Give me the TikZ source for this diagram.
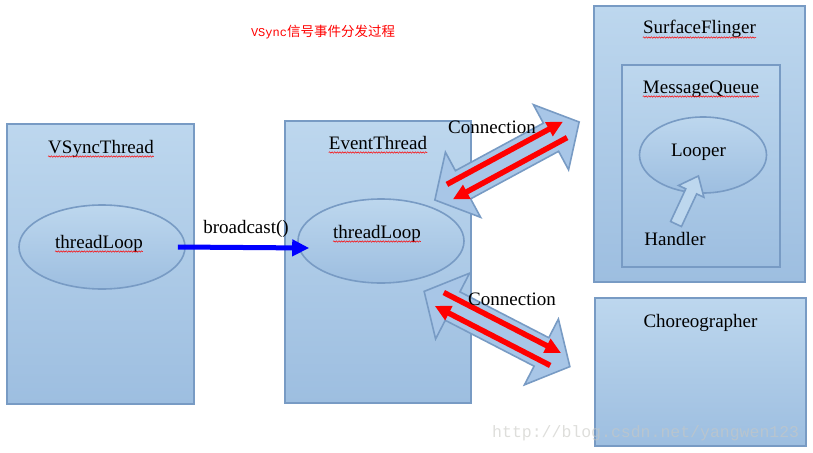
\documentclass[tikz,border=0pt]{standalone}
\usepackage{fontspec}
\setmainfont{Liberation Serif}
\setmonofont{Liberation Mono}
\newfontfamily\cjk{Noto Sans CJK SC}
\usepackage{tikz}
\usetikzlibrary{arrows.meta,shapes.geometric,decorations.pathmorphing}
\definecolor{boxtop}{RGB}{189,215,238}
\definecolor{boxbot}{RGB}{157,190,224}
\definecolor{boxline}{RGB}{120,155,196}
\definecolor{arrfill}{RGB}{168,198,231}
\definecolor{wmark}{RGB}{200,200,195}

\begin{document}
\begin{tikzpicture}[x=1pt,y=-1pt,
    box/.style={draw=boxline,line width=1.6pt,top color=boxtop,bottom color=boxbot},
    loopell/.style={ellipse,box,minimum width=166pt,minimum height=84pt},
    lbl/.style={inner sep=0pt,anchor=base,font=\fontsize{19}{22}\selectfont},
    spell/.style={red,line width=0.5pt,decorate,decoration={snake,amplitude=0.7pt,segment length=2.6pt}},
    bcast/.style={blue,line width=5pt,-{Triangle[length=17pt,width=16pt]}},
    redarrow/.style={red,line width=5.5pt,-{Triangle[length=16pt,width=15pt]}},
    blockarrow/.style={draw=boxline,line width=1.6pt,fill=arrfill,line join=miter}]
  \useasboundingbox (0,0) rectangle (813,452);
  % boxes
  \draw[box] (7,124) rectangle (194,404);
  \draw[box] (285,121) rectangle (471,403);
  \draw[box] (594,6) rectangle (805,282);
  \draw[box] (622,65) rectangle (780,267);
  \draw[box] (595,298) rectangle (806,446);
  % loops
  \node[loopell] (vloop) at (102,247) {};
  \node[loopell] (eloop) at (381,241) {};
  \node[loopell,minimum width=127pt,minimum height=76pt] (looper) at (703,155) {};
  \begin{scope}[shift={(676,224)},rotate=65]
    \draw[blockarrow,fill=boxtop] (0,-6) -- (36,-6) -- (36,-14) -- (53,0) -- (36,14) -- (36,6) -- (0,6) -- cycle;
  \end{scope}
  % connections
  \foreach \cx/\cy/\ang in {507/161/28.4, 497/329/-27.3}{
    \begin{scope}[shift={(\cx,\cy)},rotate=\ang]
      \draw[blockarrow] (-82,0) -- (-50,-37) -- (-50,-16) -- (50,-16) -- (50,-37) -- (82,0)
        -- (50,37) -- (50,16) -- (-50,16) -- (-50,37) -- cycle;
      \draw[redarrow] (-64,-8) -- (68,-8);
      \draw[redarrow] (64,8) -- (-66,8);
    \end{scope}}
  \draw[bcast] ([xshift=-8pt]vloop.east) -- ([xshift=12pt,yshift=-7pt]eloop.west);
  % labels
  \node[text=red] (title) at (323,32) {\fontsize{12}{14}\selectfont\ttfamily VSync\cjk\fontsize{13.5}{14}\selectfont 信号事件分发过程};
  \node[lbl] (vsync) at (101,153) {VSyncThread};
  \node[lbl] (vtxt) at (99,248) {threadLoop};
  \node[lbl] (bc) at (246,233) {broadcast()};
  \node[lbl] (event) at (378,149) {EventThread};
  \node[lbl] (etxt) at (377,238) {threadLoop};
  \node[lbl] (conn1) at (492,133) {Connection};
  \node[lbl] (conn2) at (512,305) {Connection};
  \node[lbl] (sf) at (699.5,34) {SurfaceFlinger};
  \node[lbl] (mq) at (701,93) {MessageQueue};
  \node[lbl] (looptxt) at (698.5,156) {Looper};
  \node[lbl] (handler) at (675,245) {Handler};
  \node[lbl] (choreo) at (700.5,327) {Choreographer};
  \foreach \n in {vsync,vtxt,event,etxt,sf,mq}
    \draw[spell] ([yshift=-3.5pt]\n.base west) -- ([yshift=-3.5pt]\n.base east);
  \node[font=\ttfamily\fontsize{16.5}{18}\selectfont,text=wmark,text opacity=0.6,anchor=base west,inner sep=0pt] (wm) at (492,437) {http://blog.csdn.net/yangwen123};
\end{tikzpicture}
\end{document}
